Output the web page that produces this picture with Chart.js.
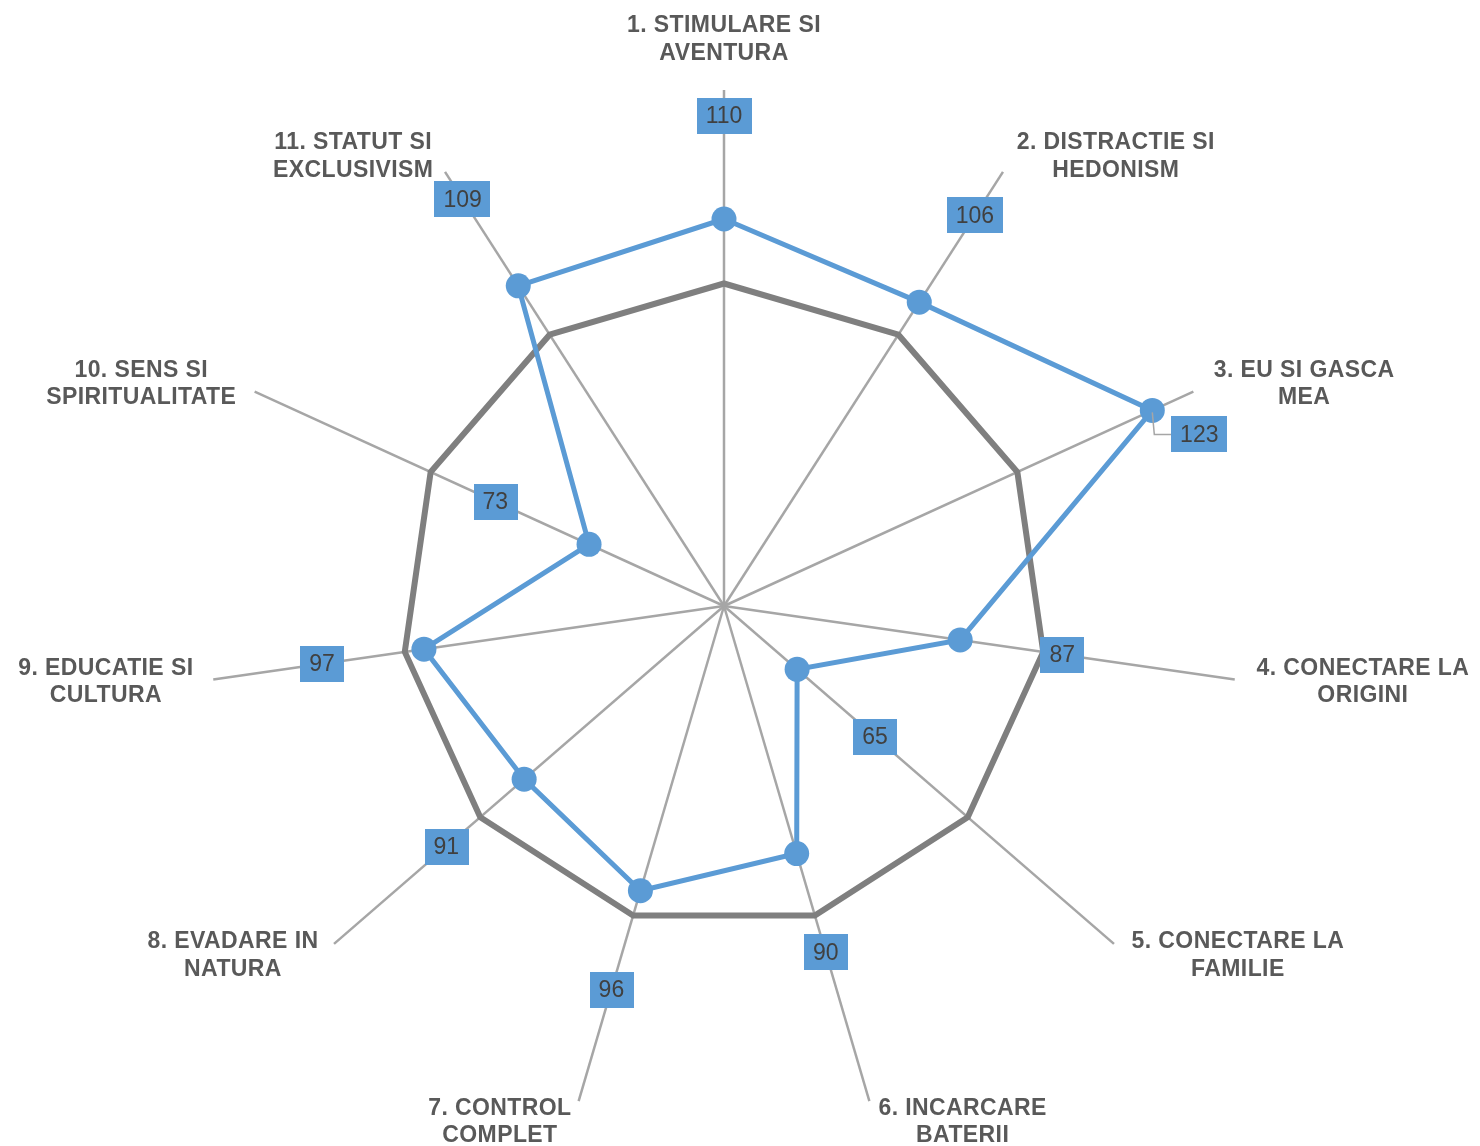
<!DOCTYPE html>
<html>
<head>
<meta charset="utf-8">
<script src="https://cdn.jsdelivr.net/npm/chart.js@4/dist/chart.umd.min.js"></script>
<style>
  html, body { margin: 0; padding: 0; background: #ffffff; }
  #wrap { width: 1480px; height: 1146px; position: relative; }
</style>
</head>
<body>
<div id="wrap"><canvas id="c"></canvas></div>
<script>
// Categories (each split into its two display lines)
const categories = [
  ['1. STIMULARE SI', 'AVENTURA'],
  ['2. DISTRACTIE SI', 'HEDONISM'],
  ['3. EU SI GASCA', 'MEA'],
  ['4. CONECTARE LA', 'ORIGINI'],
  ['5. CONECTARE LA', 'FAMILIE'],
  ['6. INCARCARE', 'BATERII'],
  ['7. CONTROL', 'COMPLET'],
  ['8. EVADARE IN', 'NATURA'],
  ['9. EDUCATIE SI', 'CULTURA'],
  ['10. SENS SI', 'SPIRITUALITATE'],
  ['11. STATUT SI', 'EXCLUSIVISM']
];
const profileValues  = [110, 106, 123, 87, 65, 90, 96, 91, 97, 73, 109];
const baselineValues = [100, 100, 100, 100, 100, 100, 100, 100, 100, 100, 100];
const scaleMin = 50;
const scaleMax = 130;

const BLUE = '#5B9BD5';
const GRAY = '#7F7F7F';
const LABEL_FONT = '"Liberation Sans", Arial, sans-serif';

// Two-line category captions drawn just outside each spoke
const categoryLabels = {
  id: 'categoryLabels',
  afterDraw(chart) {
    const s = chart.scales.r;
    const ctx = chart.ctx;
    ctx.save();
    ctx.font = 'bold 23px ' + LABEL_FONT;
    ctx.letterSpacing = '0.4px';
    ctx.fillStyle = '#595959';
    ctx.textBaseline = 'middle';
    ctx.textAlign = 'center';
    const lineH = 27.5;
    const n = categories.length;
    categories.forEach((lines, i) => {
      const p = s.getPointPosition(i, s.drawingArea + 18);
      const deg = (360 / n) * i;
      const w = Math.max(...lines.map(t => ctx.measureText(t).width));
      let left;
      if (deg === 0 || deg === 180) left = p.x - w / 2;
      else if (deg < 180) left = p.x + 4;
      else left = p.x - 2 - w;
      let cy = p.y;
      if (deg === 0) cy = p.y - 32.5;
      else if (deg > 150 && deg < 210) cy = p.y + 4;
      lines.forEach((t, k) => {
        ctx.fillText(t, left + w / 2, cy + (k - (lines.length - 1) / 2) * lineH);
      });
    });
    ctx.restore();
  }
};

// Value boxes placed further out along each spoke; a value whose box would
// leave the plot area gets a callout beside its point with a leader line.
const valueBoxes = {
  id: 'valueBoxes',
  afterDraw(chart) {
    const s = chart.scales.r;
    const ctx = chart.ctx;
    const offset = 103;
    ctx.save();
    ctx.font = '23px ' + LABEL_FONT;
    ctx.textAlign = 'center';
    ctx.textBaseline = 'middle';
    profileValues.forEach((v, i) => {
      const r = s.getDistanceFromCenterForValue(v);
      const pt = s.getPointPosition(i, r);
      const text = String(v);
      const bw = ctx.measureText(text).width + 18;
      const bh = 36;
      let cx, cy, callout = false;
      if (r + offset > s.drawingArea) {
        callout = true;
        cx = pt.x + 47;
        cy = pt.y + 24;
      } else {
        const q = s.getPointPosition(i, r + offset);
        cx = q.x; cy = q.y;
      }
      if (callout) {
        ctx.strokeStyle = '#A6A6A6';
        ctx.lineWidth = 1.5;
        ctx.beginPath();
        ctx.moveTo(pt.x, pt.y + 2);
        ctx.lineTo(pt.x + 2, cy);
        ctx.lineTo(cx - bw / 2, cy);
        ctx.stroke();
      }
      ctx.fillStyle = BLUE;
      ctx.fillRect(Math.round(cx - bw / 2), Math.round(cy - bh / 2), Math.round(bw), bh);
      ctx.fillStyle = '#404040';
      ctx.fillText(text, cx, cy + 1);
    });
    ctx.restore();
  }
};

new Chart(document.getElementById('c'), {
  type: 'radar',
  data: {
    labels: categories.map(l => l.join(' ')),
    datasets: [
      {
        label: 'Profil',
        data: profileValues,
        borderColor: BLUE,
        borderWidth: 5,
        pointRadius: 12.5,
        pointHoverRadius: 12.5,
        pointBackgroundColor: BLUE,
        pointBorderWidth: 0,
        fill: false,
        order: 0
      },
      {
        label: 'Medie',
        data: baselineValues,
        borderColor: GRAY,
        borderWidth: 6,
        pointRadius: 0,
        fill: false,
        order: 1
      }
    ]
  },
  options: {
    responsive: true,
    maintainAspectRatio: false,
    animation: false,
    devicePixelRatio: 1,
    layout: { padding: { top: 90, bottom: 24, left: 208, right: 240 } },
    plugins: {
      legend: { display: false },
      tooltip: { enabled: false }
    },
    scales: {
      r: {
        min: scaleMin,
        max: scaleMax,
        ticks: { display: false },
        grid: { display: false },
        angleLines: { color: '#A6A6A6', lineWidth: 2.5 },
        pointLabels: { display: false }
      }
    }
  },
  plugins: [categoryLabels, valueBoxes]
});
</script>
</body>
</html>
